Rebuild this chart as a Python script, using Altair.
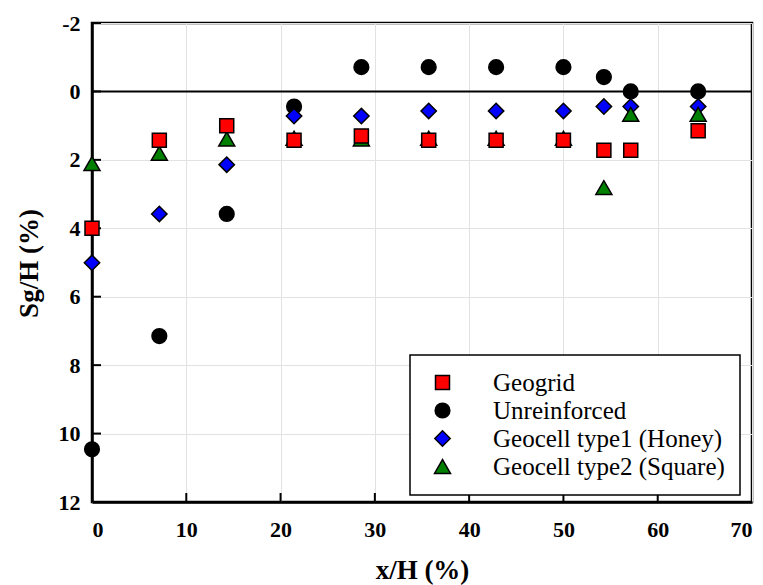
import altair as alt
import pandas as pd

# Horizontal distance from the wall, x/H (%)
x_pos = [0.0, 7.14, 14.29, 21.43, 28.57, 35.71, 42.86, 50.0, 54.29, 57.14, 64.29]

# Surface settlement Sg/H (%) for each case (negative = heave)
geogrid = [4.0, 1.43, 1.0, 1.43, 1.30, 1.43, 1.43, 1.43, 1.72, 1.72, 1.15]
unreinforced = [10.46, 7.15, 3.58, 0.44, -0.71, -0.71, -0.71, -0.71, -0.42, 0.0, 0.0]
geocell_honey = [5.01, 3.58, 2.14, 0.72, 0.72, 0.57, 0.57, 0.57, 0.44, 0.44, 0.44]
geocell_square = [2.11, 1.81, 1.39, 1.37, 1.39, 1.37, 1.37, 1.37, 2.81, 0.67, 0.67]

legend_order = ["Geogrid", "Unreinforced", "Geocell type1 (Honey)", "Geocell type2 (Square)"]
colors = ["#ff0000", "#000000", "#0000ff", "#008000"]
shapes = ["square", "circle", "diamond", "triangle-up"]
sizes = [196, 256, 324, 256]

x_ticks = [0, 10, 20, 30, 40, 50, 60, 70]
y_ticks = [-2, 0, 2, 4, 6, 8, 10, 12]

# drawing order: circles first, squares last (on top)
series = [
    ("Unreinforced", unreinforced),
    ("Geocell type1 (Honey)", geocell_honey),
    ("Geocell type2 (Square)", geocell_square),
    ("Geogrid", geogrid),
]
rows = []
for name, vals in series:
    for xv, yv in zip(x_pos, vals):
        rows.append({"x": xv, "s": yv, "series": name})
df = pd.DataFrame(rows)

FONT = "Liberation Serif"

x_scale = alt.Scale(domain=[0, 70], nice=False, zero=False)
y_scale = alt.Scale(domain=[-2, 12], reverse=True, nice=False, zero=False)

x_axis = alt.Axis(
    values=x_ticks, ticks=False, grid=True, labelPadding=17,
    labelFont=FONT, labelFontSize=22, labelFontWeight="bold", labelColor="black",
    title="x/H (%)", titleFont=FONT, titleFontSize=27, titleFontWeight="bold",
    titleColor="black", titleBaseline="alphabetic", titleY=76,
)
y_axis = alt.Axis(
    values=y_ticks, ticks=False, grid=True, labelPadding=12,
    labelExpr="toString(datum.value)",
    labelFont=FONT, labelFontSize=22, labelFontWeight="bold", labelColor="black",
    title="Sg/H (%)", titleFont=FONT, titleFontSize=27, titleFontWeight="bold",
    titleColor="black", titleAngle=270, titleBaseline="alphabetic",
    titleX=-55, titleY=240,
)

legend = alt.Legend(
    title=None, orient="none", legendX=318, legendY=332,
    labelFont=FONT, labelFontSize=25, labelColor="black", labelLimit=0,
    strokeColor="black", fillColor="white",
    padding=15, rowPadding=2, symbolOffset=5, labelOffset=38,
    symbolStrokeWidth=1.5, symbolOpacity=1,
)

X = alt.X("x:Q", scale=x_scale, axis=x_axis)
Y = alt.Y("s:Q", scale=y_scale, axis=y_axis)

points = alt.Chart(df).mark_point(
    filled=True, strokeWidth=1.5, strokeOpacity=1, opacity=1
).encode(
    x=X,
    y=Y,
    color=alt.Color("series:N", scale=alt.Scale(domain=legend_order, range=colors), legend=legend),
    shape=alt.Shape("series:N", scale=alt.Scale(domain=legend_order, range=shapes), legend=legend),
    size=alt.Size("series:N", scale=alt.Scale(domain=legend_order, range=sizes), legend=legend),
    stroke=alt.Stroke("series:N", scale=alt.Scale(domain=legend_order, range=["black"] * 4), legend=legend),
)

zero_line = alt.Chart(pd.DataFrame({"s": [0]})).mark_rule(
    color="black", strokeWidth=2
).encode(y=Y)

# inward tick marks, clipped to the plot area
y_tick_marks = alt.Chart(pd.DataFrame({"x": [0] * len(y_ticks), "s": y_ticks})).mark_tick(
    orient="horizontal", size=18, thickness=2, color="black", clip=True, opacity=1
).encode(x=X, y=Y)

x_tick_marks = alt.Chart(pd.DataFrame({"x": x_ticks, "s": [12] * len(x_ticks)})).mark_tick(
    orient="vertical", size=18, thickness=2, color="black", clip=True, opacity=1
).encode(x=X, y=Y)

chart = alt.layer(zero_line, y_tick_marks, x_tick_marks, points).properties(
    width=660, height=479,
    autosize=alt.AutoSizeParams(type="none"),
    padding={"left": 92, "top": 23, "right": 11, "bottom": 83},
    background="white",
).configure_view(
    stroke="black", strokeWidth=2.5
).configure_axis(
    domainColor="black", domainWidth=2.5, gridColor="#e2e2e2", gridWidth=1,
).configure_legend(
    strokeWidth=1.5, cornerRadius=0,
)

chart.save("out.html", embed_options={"renderer": "svg", "actions": False})
